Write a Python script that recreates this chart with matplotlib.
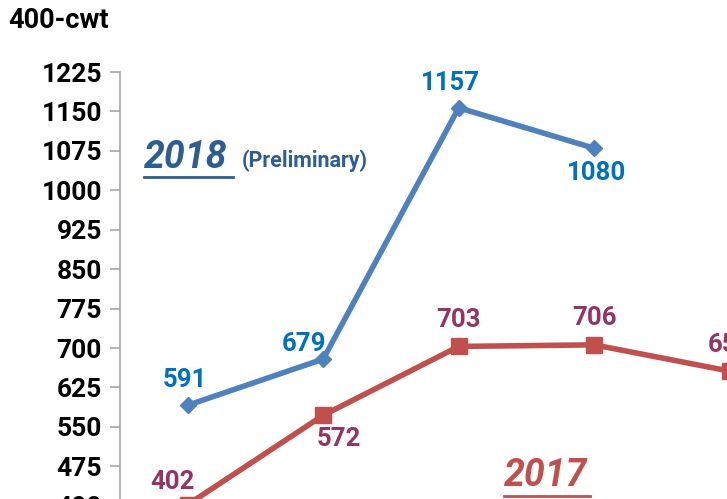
import numpy as np
import matplotlib.pyplot as plt
from matplotlib.lines import Line2D

plt.rcParams['font.family'] = ['Roboto', 'DejaVu Sans']

# values (x is category index)
cats = [0, 1, 2, 3, 4]
y2018 = [591, 679, 1157, 1080]
y2017 = [402, 572, 703, 706, 656]
yticks = [400, 475, 550, 625, 700, 775, 850, 925, 1000, 1075, 1150, 1225]

blue = '#4F81BD'
red = '#C0504D'
blue_lbl = '#0070C0'
red_lbl = '#953462'
dark_blue = '#2E5D91'

fig = plt.figure(figsize=(7.27, 4.99), dpi=100)
ax = fig.add_axes([120 / 727, -0.0134, (727 - 120) / 727, 0.869])

ax.plot(cats[:4], y2018, color=blue, lw=4, marker='D', ms=8, zorder=3)
ax.plot(cats, y2017, color=red, lw=4, marker='s', ms=11, zorder=3, clip_on=False)

ax.set_xlim(-0.5, 3.98)
ax.set_ylim(400, 1225)
ax.set_yticks(yticks)
ax.set_xticks([])
for s in ['top', 'right', 'bottom']:
    ax.spines[s].set_visible(False)
ax.spines['left'].set_color('#A6A6A6')
ax.spines['left'].set_linewidth(1.2)
ax.tick_params(axis='y', length=7, width=1.2, color='#A6A6A6', labelsize=19, pad=6)
for t in ax.get_yticklabels():
    t.set_fontweight('bold')

# data labels: offsets in points
off18 = [(-2, 18), (-14, 11), (-6, 18), (2, -18)]
for x, y, o in zip(cats, y2018, off18):
    ax.annotate(str(y), (x, y), xytext=o, textcoords='offset points', ha='center', va='center',
                color=blue_lbl, fontsize=18.5, fontweight='bold')
off17 = [(-11, 16), (11, -17), (0, 19), (0, 19), (0, 19)]
for x, y, o in zip(cats, y2017, off17):
    ax.annotate(str(y), (x, y), xytext=o, textcoords='offset points', ha='center', va='center',
                color=red_lbl, fontsize=18.5, fontweight='bold', annotation_clip=False)

fig.text(8 / 727, 1 - 20 / 499, '400-cwt', fontsize=19.5, fontweight='bold', va='center', ha='left')

t18 = fig.text(144 / 727, 1 - 157 / 499, '2018', fontsize=27, fontweight='bold', style='italic',
               color=dark_blue, va='center', ha='left')
fig.text(242 / 727, 1 - 161 / 499, '(Preliminary)', fontsize=15.5, fontweight='bold',
         color=dark_blue, va='center', ha='left')
t17 = fig.text(504 / 727, 1 - 476 / 499, '2017', fontsize=27, fontweight='bold', style='italic',
               color=red, va='center', ha='left')

# underline the year labels
fig.canvas.draw()
r = fig.canvas.get_renderer()
for t, c, extra in [(t18, dark_blue, 6), (t17, red, 2)]:
    bb = t.get_window_extent(r).transformed(fig.transFigure.inverted())
    fig.add_artist(Line2D([bb.x0, bb.x1 + extra / 727], [bb.y0 - 1 / 499] * 2, color=c, lw=2,
                          transform=fig.transFigure))

fig.savefig('out.png', dpi=100)
